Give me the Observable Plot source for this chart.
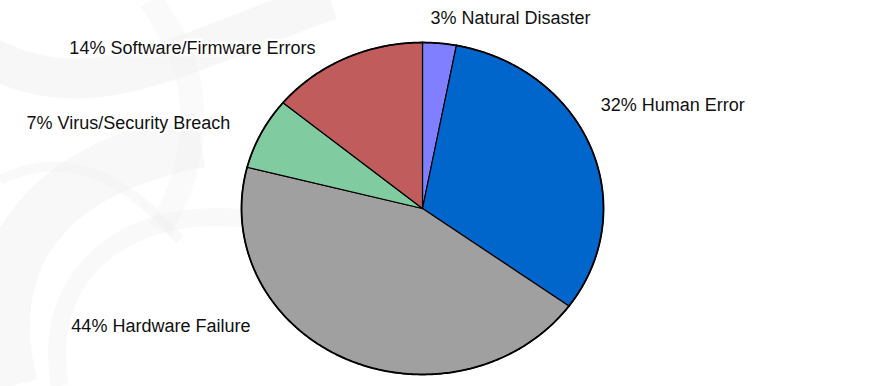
<!DOCTYPE html>
<html>
<head>
<meta charset="utf-8">
<script src="https://cdn.jsdelivr.net/npm/d3@7"></script>
<script src="https://cdn.jsdelivr.net/npm/@observablehq/plot@0.6"></script>
<style>
  html, body { margin: 0; padding: 0; background: #fff; }
  body { width: 871px; height: 386px; overflow: hidden; position: relative; }
  #bg { position: absolute; left: 0; top: 0; }
  #chart { position: absolute; left: 0; top: 0; }
</style>
</head>
<body>
<svg id="bg" width="871" height="386">
  <g fill="none" stroke="#f1f1f1">
    <path d="M-40,40 C80,120 160,60 330,0" stroke-width="40" opacity="0.6"/>
    <path d="M10,386 C-20,260 40,170 200,140" stroke-width="55" opacity="0.5"/>
    <path d="M60,386 C40,280 120,200 260,220" stroke-width="18" opacity="0.4"/>
    <path d="M150,0 C210,80 200,160 160,230" stroke-width="24" opacity="0.35"/>
    <path d="M0,180 C60,150 120,170 180,240" stroke-width="10" opacity="0.4"/>
  </g>
</svg>
<div id="chart"></div>
<script>
// ---- data ----
const categories = ["Natural Disaster", "Human Error", "Hardware Failure", "Virus/Security Breach", "Software/Firmware Errors"];
const percents   = [3, 32, 44, 7, 14];
const colors     = ["#7f7fff", "#0066cc", "#a0a0a0", "#80cca0", "#c05c5c"];

// ---- build wedges (unit circle, clockwise from 12 o'clock) ----
const total = d3.sum(percents);
const slices = [];
let acc = 0;
categories.forEach((c, i) => {
  const a0 = acc / total * 2 * Math.PI;
  acc += percents[i];
  const a1 = acc / total * 2 * Math.PI;
  slices.push({category: c, value: percents[i], a0, a1, mid: (a0 + a1) / 2});
});
const pts = [];
slices.forEach(s => {
  pts.push({category: s.category, x: 0, y: 0});
  const n = Math.max(4, Math.ceil((s.a1 - s.a0) / 0.01));
  for (let k = 0; k <= n; k++) {
    const a = s.a0 + (s.a1 - s.a0) * k / n;
    pts.push({category: s.category, x: Math.sin(a), y: Math.cos(a)});
  }
  pts.push({category: s.category, x: 0, y: 0});
});

// label layout (offsets in px from the wedge's mid-angle rim point)
const labelLayout = {
  "Natural Disaster":         {dx: -9,  dy: -25, anchor: "start"},
  "Human Error":              {dx: 10,  dy: -42, anchor: "start"},
  "Hardware Failure":         {dx: -95, dy: -32, anchor: "end"},
  "Virus/Security Breach":    {dx: -31, dy: -10, anchor: "end"},
  "Software/Firmware Errors": {dx: -30, dy: -10, anchor: "end"}
};

const labelMarks = slices.map(s => {
  const L = labelLayout[s.category];
  return Plot.text([s], {
    x: d => Math.sin(d.mid),
    y: d => Math.cos(d.mid),
    text: d => `${d.value}% ${d.category}`,
    dx: L.dx, dy: L.dy,
    textAnchor: L.anchor,
    fill: "#111",
    stroke: "white",
    strokeWidth: 5,
    fontSize: 18,
    fontFamily: "Liberation Sans, Arial, sans-serif"
  });
});

const chart = Plot.plot({
  width: 871,
  height: 386,
  margin: 0,
  x: {domain: [-1, 1], range: [241, 603], axis: null},
  y: {domain: [-1, 1], range: [374, 42], axis: null},
  color: {domain: categories, range: colors},
  style: {background: "transparent", overflow: "visible"},
  marks: [
    Plot.line(pts, {x: "x", y: "y", z: "category", fill: "category", stroke: "black", strokeWidth: 1.2, strokeLinejoin: "round", curve: "linear"}),
    Plot.line(pts.filter(p => !(p.x === 0 && p.y === 0)), {x: "x", y: "y", z: "category", stroke: "black", strokeWidth: 1.8}),
    ...labelMarks
  ]
});
document.getElementById("chart").appendChild(chart);
</script>
</body>
</html>
